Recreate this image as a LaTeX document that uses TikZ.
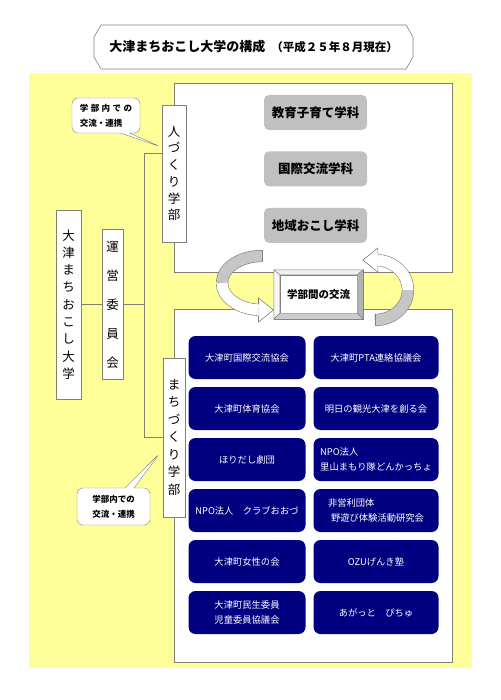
\documentclass[tikz,border=0pt]{standalone}
\usepackage{fontspec}
\setmainfont{Noto Sans CJK JP}
\usetikzlibrary{positioning, shapes.callouts}
\definecolor{paleyellow}{RGB}{255,255,153}
\definecolor{navyblue}{RGB}{0,0,128}
\definecolor{framegray}{RGB}{128,128,118}
\definecolor{deptgray}{RGB}{192,192,192}

\begin{document}
\begin{tikzpicture}[x=1pt, y=-1pt,
    vbox/.style={draw=framegray, fill=white, inner sep=0pt, align=center},
    dept/.style={fill=deptgray, rounded corners=5pt, minimum width=103pt, minimum height=35pt, font=\fontsize{12.5}{14}\selectfont\bfseries},
    org/.style={fill=navyblue, text=white, rounded corners=7pt, minimum height=43pt, font=\fontsize{9.3}{15.5}\selectfont},
    bubble/.style={rectangle callout, draw=framegray, fill=white, rounded corners=6pt, callout pointer width=9pt, align=left, font=\fontsize{8.5}{15}\selectfont\bfseries},
    ribbonback/.style={draw=gray, line width=0.6pt, double=gray!45, double distance=11pt},
    ribbonfront/.style={draw=gray, line width=0.6pt, double=white, double distance=11pt},
    link/.style={draw=framegray, line width=0.6pt}]
    \useasboundingbox [fill=white] (0,0) rectangle (500,700);

    % title
    \draw [framegray, fill=white, line width=0.6pt] (101,25) -- (406,25) -- (413,37) -- (413,57) -- (406,69) -- (101,69) -- (94,57) -- (94,37) -- cycle;
    \node (title) at (253.5,47) {{\fontsize{13}{13}\selectfont\bfseries 大津まちおこし大学の構成}\hspace{6pt}{\fontsize{11.5}{12}\selectfont\bfseries （平成２５年８月現在）}};

    \fill [paleyellow] (29,73) rectangle (472,668);

    \node (hitobox) at (313,177.5) [draw=framegray, fill=white, minimum width=278pt, minimum height=189pt, inner sep=0pt] {};
    \node (machibox) at (313,485.5) [draw=framegray, fill=white, minimum width=278pt, minimum height=353pt, inner sep=0pt] {};

    % left side
    \node (univ) at (68.5,304.5) [vbox, minimum width=25pt, minimum height=189pt, font=\fontsize{12.5}{17.3}\selectfont] {大\\津\\ま\\ち\\お\\こ\\し\\大\\学};
    \node (unei) at (112.5,304.5) [vbox, minimum width=21pt, minimum height=150pt, font=\fontsize{12.5}{29}\selectfont] {運\\営\\委\\員\\会};
    \node (hito) at (174,173.5) [vbox, minimum width=24pt, minimum height=137pt, font=\fontsize{12.5}{16.7}\selectfont] {人\\づ\\く\\り\\学\\部};
    \node (machi) at (174,437.5) [vbox, minimum width=22pt, minimum height=159pt, font=\fontsize{12.5}{17.5}\selectfont] {ま\\ち\\づ\\く\\り\\学\\部};

    \coordinate (jt) at (144,153);
    \coordinate (jb) at (144,437.5);
    \draw [link] (jt -| hito.west) -- (jt) -- (jb) -- (machi.west);
    \draw [link] (univ.east) -- (unei.west);
    \draw [link] (unei.east) -- (unei.east -| jt);

    \coordinate (tip1) at (161,147);
    \coordinate (tip2) at (160,453);
    \node (note1) at (106,115.5) [bubble, minimum width=68pt, minimum height=35pt, callout absolute pointer=(tip1)] {学\hspace{2.5pt}部\hspace{2.5pt}内\hspace{2.5pt}で\hspace{2.5pt}の\\交流・連携};
    \node (note2) at (113.5,506.5) [bubble, minimum width=73pt, minimum height=37pt, callout absolute pointer=(tip2)] {学部内での\\交流・連携};

    % departments
    \node (dept1) at (315.5,112.5) [dept] {教育子育て学科};
    \node (dept2) [dept, below=21pt of dept1] {国際交流学科};
    \node (dept3) [dept, below=21pt of dept2] {地域おこし学科};

    % member groups
    \node (org1) at (247,357.5) [org, minimum width=117pt] {大津町国際交流協会};
    \node (org2) at (376,357.5) [org, minimum width=125pt] {大津町PTA連絡協議会};
    \node (org3) at (247,408.5) [org, minimum width=117pt] {大津町体育協会};
    \node (org4) at (376,408.5) [org, minimum width=125pt] {明日の観光大津を創る会};
    \node (org5) at (247,459.5) [org, minimum width=117pt] {ほりだし劇団};
    \node (org6) at (376,459.5) [org, minimum width=125pt, align=left] {NPO法人\\里山まもり隊どんかっちょ};
    \node (org7) at (247,510.5) [org, minimum width=117pt] {NPO法人　クラブおおづ};
    \node (org8) at (376,510.5) [org, minimum width=125pt, align=left] {非営利団体\\\hspace{3pt}野遊び体験活動研究会};
    \node (org9) at (247,561.5) [org, minimum width=117pt] {大津町女性の会};
    \node (org10) at (376,561.5) [org, minimum width=125pt] {OZUげんき塾};
    \node (org11) at (247,612.5) [org, minimum width=117pt, align=center] {大津町民生委員\\児童委員協議会};
    \node (org12) at (376,612.5) [org, minimum width=125pt] {あがっと　ぴちゅ};

    % exchange arrows
    \draw [ribbonback] (262,256) arc [start angle=270, end angle=180, x radius=40, y radius=27];
    \draw [gray, line width=0.6pt] (262,250.2) -- (262,261.8);
    \draw [ribbonfront] (222,283) arc [start angle=180, end angle=95, x radius=40, y radius=27];
    \fill [white] (258.5,298) -- (273.5,310) -- (258.5,322) -- cycle;
    \draw [gray, line width=0.6pt] (258.5,304.1) -- (258.5,298) -- (273.5,310) -- (258.5,322) -- (258.5,315.7);

    \draw [ribbonback] (375,320) arc [start angle=90, end angle=0, x radius=33, y radius=30];
    \draw [gray, line width=0.6pt] (375,314.2) -- (375,325.8);
    \draw [ribbonfront] (408,290) arc [start angle=0, end angle=-85, x radius=33, y radius=30];
    \fill [white] (377.9,248) -- (362.9,260.1) -- (377.9,272.2) -- cycle;
    \draw [gray, line width=0.6pt] (377.9,254.3) -- (377.9,248) -- (362.9,260.1) -- (377.9,272.2) -- (377.9,265.9);

    \node (kframe) at (318.5,294.5) [draw=gray, fill=white, minimum width=89pt, minimum height=49pt, inner sep=0pt] {};
    \node (kouryu) at (318.5,294) [draw=gray, fill=white, minimum width=77pt, minimum height=38pt, inner sep=0pt, font=\fontsize{10.5}{12}\selectfont\bfseries] {学部間の交流};
    \filldraw [draw=gray, fill=gray!12] (kframe.north west) -- (kframe.north east) -- (kouryu.north east) -- (kouryu.north west) -- cycle;
    \filldraw [draw=gray, fill=gray!60] (kframe.north east) -- (kframe.south east) -- (kouryu.south east) -- (kouryu.north east) -- cycle;
    \filldraw [draw=gray, fill=gray!40] (kframe.south west) -- (kframe.south east) -- (kouryu.south east) -- (kouryu.south west) -- cycle;
    \filldraw [draw=gray, fill=gray!6] (kframe.north west) -- (kframe.south west) -- (kouryu.south west) -- (kouryu.north west) -- cycle;
\end{tikzpicture}
\end{document}
